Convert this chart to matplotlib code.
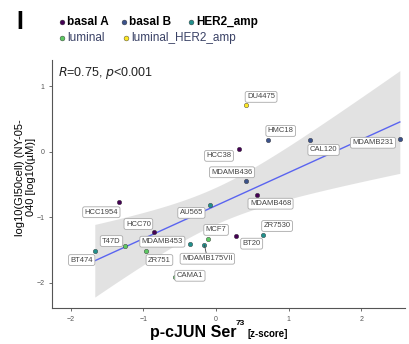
import numpy as np
import matplotlib
matplotlib.use("Agg")
import matplotlib.pyplot as plt

plt.rcParams['font.family'] = ['Liberation Sans', 'DejaVu Sans']

# data
cells = ['DU4475', 'HMC18', 'HCC38', 'CAL120', 'MDAMB231', 'MDAMB436', 'MDAMB468',
         'AU565', 'HCC1954', 'HCC70', 'T47D', 'BT474', 'MDAMB453', 'ZR751', 'MCF7',
         'MDAMB175VII', 'BT20', 'ZR7530', 'CAMA1']
x_vals = [0.41, 0.71, 0.32, 1.29, 2.53, 0.41, 0.57,
          -0.08, -1.34, -0.86, -1.26, -1.67, -0.36, -0.96, -0.11,
          -0.16, 0.27, 0.64, -0.56]
y_vals = [0.71, 0.18, 0.05, 0.18, 0.20, -0.45, -0.66,
          -0.81, -0.77, -1.22, -1.43, -1.51, -1.40, -1.51, -1.33,
          -1.42, -1.29, -1.27, -1.91]
subtype = ['luminal_HER2_amp', 'basal B', 'basal A', 'basal B', 'basal B', 'basal B', 'basal A',
           'HER2_amp', 'basal A', 'basal A', 'luminal', 'HER2_amp', 'HER2_amp', 'luminal', 'luminal',
           'HER2_amp', 'basal A', 'HER2_amp', 'luminal']
label_x = [0.62, 0.89, 0.04, 1.48, 2.16, 0.22, 0.75,
           -0.34, -1.58, -1.07, -1.44, -1.85, -0.74, -0.78, 0.00,
           -0.12, 0.49, 0.84, -0.36]
label_y = [0.84, 0.32, -0.06, 0.03, 0.14, -0.31, -0.79,
           -0.93, -0.92, -1.10, -1.36, -1.65, -1.37, -1.65, -1.19,
           -1.63, -1.40, -1.13, -1.89]

groups = ['basal A', 'basal B', 'HER2_amp', 'luminal', 'luminal_HER2_amp']
colors = {'basal A': '#440154', 'basal B': '#3B528B', 'HER2_amp': '#21908C',
          'luminal': '#5DC863', 'luminal_HER2_amp': '#FDE725'}

x = np.array(x_vals)
y = np.array(y_vals)

fig = plt.figure(figsize=(4.09, 3.44), dpi=100)
ax = fig.add_axes([0.127, 0.105, 0.863, 0.72])

# regression line + 95% CI
slope, icpt = np.polyfit(x, y, 1)
xs = np.linspace(x.min(), x.max(), 100)
fit = icpt + slope * xs
n = len(x)
resid = y - (icpt + slope * x)
s = np.sqrt(np.sum(resid ** 2) / (n - 2))
se = s * np.sqrt(1 / n + (xs - x.mean()) ** 2 / np.sum((x - x.mean()) ** 2))
tval = 2.11
ax.fill_between(xs, fit - tval * se, fit + tval * se, color='#d9d9d9', alpha=0.75, lw=0, zorder=1)
ax.plot(xs, fit, color='#5a64f0', lw=1, zorder=2)

for cx, cy, st in zip(x_vals, y_vals, subtype):
    ax.plot(cx, cy, 'o', ms=3.2, color=colors[st], mec='#333333', mew=0.3, zorder=3)

for name, cx, cy, lx, ly in zip(cells, x_vals, y_vals, label_x, label_y):
    if name == 'MDAMB175VII':
        ax.annotate(name, (cx, cy), xytext=(lx, ly), fontsize=5.5, color='#444444',
                    ha='center', va='center', zorder=4,
                    arrowprops=dict(arrowstyle='-', color='#444444', lw=0.6, shrinkA=0, shrinkB=0),
                    bbox=dict(boxstyle='round,pad=0.25', fc='white', ec='#aaaaaa', lw=0.6))
    else:
        ax.text(lx, ly, name, fontsize=5.5, color='#444444', ha='center', va='center', zorder=4,
                bbox=dict(boxstyle='round,pad=0.25', fc='white', ec='#aaaaaa', lw=0.6))

ax.text(-2.18, 1.2, '$R$=0.75, $p$<0.001', fontsize=9, color='#222222', va='center')

ax.set_xlim(-2.26, 2.6)
ax.set_ylim(-2.38, 1.4)
ax.set_xticks([-2, -1, 0, 1, 2])
ax.set_yticks([-2, -1, 0, 1])
ax.tick_params(labelsize=5, colors='#555555', length=2, width=0.6)
for sp in ['top', 'right']:
    ax.spines[sp].set_visible(False)
for sp in ['left', 'bottom']:
    ax.spines[sp].set_color('#555555')
    ax.spines[sp].set_linewidth(0.8)

# axis titles
xl = fig.text(0.366, 0.02, 'p-cJUN Ser', fontsize=11.5, fontweight='bold', va='baseline')
fig.canvas.draw()
x_end = fig.transFigure.inverted().transform(xl.get_window_extent().get_points())[1, 0]
fig.text(x_end - 0.002, 0.055, '73', fontsize=6, fontweight='bold', va='baseline')
fig.text(x_end + 0.028, 0.02, '[z-score]', fontsize=7, fontweight='bold', va='baseline')
fig.text(0.062, 0.485, 'log10(GI50cell) (NY-05-\n040 [log10(\u00b5M)]', fontsize=8,
         rotation=90, ha='center', va='center', linespacing=1.1)

# panel letter and legend
fig.text(0.04, 0.915, 'I', fontsize=18, fontweight='bold')
leg_pos = [(0.152, 0.936), (0.303, 0.936), (0.467, 0.936), (0.152, 0.889), (0.308, 0.889)]
for g, (px, py) in zip(groups, leg_pos):
    fig.lines.append(plt.Line2D([px], [py], marker='o', ms=3.5, color=colors[g], mec='#333333',
                                mew=0.3, transform=fig.transFigure))
    bold = g in ('basal A', 'basal B', 'HER2_amp')
    fig.text(px + 0.013, py, g, fontsize=8.5, va='center',
             fontweight='bold' if bold else 'normal',
             color='black' if bold else '#3a4266')

fig.savefig('out.png', dpi=100)
